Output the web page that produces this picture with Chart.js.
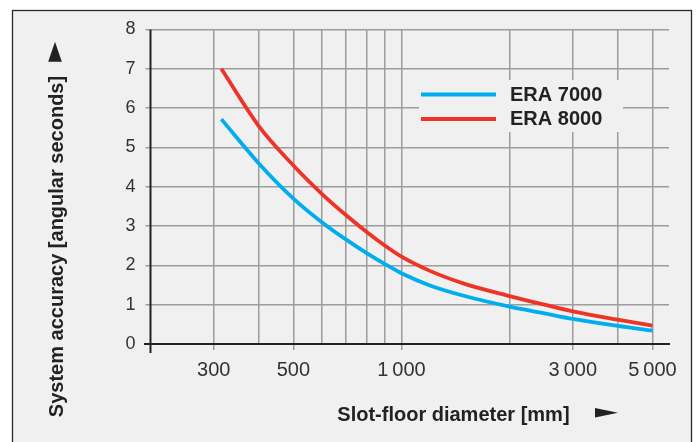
<!DOCTYPE html>
<html>
<head>
<meta charset="utf-8">
<script src="https://cdn.jsdelivr.net/npm/chart.js@4.4.1/dist/chart.umd.min.js"></script>
<style>
  html, body { margin: 0; padding: 0; background: #ffffff; }
  canvas { display: block; }
</style>
</head>
<body>
<canvas id="chart" width="696" height="442"></canvas>
<script>
// Slot-floor diameter [mm] and system accuracy [angular seconds]
const diameters = [315, 400, 500, 600, 700, 800, 900, 1000, 1200, 1500, 2000, 2500, 3000, 4000, 5000];
const era7000 = [5.72, 4.60, 3.70, 3.10, 2.66, 2.31, 2.03, 1.80, 1.49, 1.22, 0.95, 0.78, 0.64, 0.46, 0.34];
const era8000 = [7.00, 5.55, 4.54, 3.82, 3.28, 2.85, 2.50, 2.22, 1.86, 1.53, 1.22, 1.00, 0.83, 0.62, 0.47];
const seriesNames = ['ERA 7000', 'ERA 8000'];

// Axis ticks
const gridDiameters = [300, 400, 500, 600, 700, 800, 900, 1000, 2000, 3000, 4000, 5000];
const labelledDiameters = [300, 500, 1000, 3000, 5000];
const xTickLabels = ['300', '500', '1\u2009000', '3\u2009000', '5\u2009000'];
const yTicks = [0, 1, 2, 3, 4, 5, 6, 7, 8];

const xTitle = 'Slot-floor diameter [mm]';
const yTitle = 'System accuracy [angular seconds]';

const BG = '#f0f0f0';
const GRID = '#9c9c9c';
const INK = '#222222';
const SANS = '"Liberation Sans", Arial, Helvetica, sans-serif';

const toPoints = (ys) => diameters.map((d, i) => ({ x: d, y: ys[i] }));

const framePlugin = {
  id: 'frame',
  beforeDraw(chart) {
    const ctx = chart.ctx;
    ctx.save();
    ctx.fillStyle = '#ffffff';
    ctx.fillRect(0, 0, chart.width, chart.height);
    ctx.fillStyle = BG;
    ctx.fillRect(12, 10, 680, 440);
    ctx.strokeStyle = '#2a2a2a';
    ctx.lineWidth = 1.3;
    ctx.strokeRect(12.5, 10.5, 679, 440);
    ctx.restore();
  }
};

const axesPlugin = {
  id: 'axesAndKey',
  afterDatasetsDraw(chart) {
    const ctx = chart.ctx;
    const { left, right, top, bottom } = chart.chartArea;
    ctx.save();
    // axis lines
    ctx.strokeStyle = INK;
    ctx.lineWidth = 2;
    ctx.beginPath();
    ctx.moveTo(left - 6.5, bottom);
    ctx.lineTo(right + 1, bottom);
    ctx.stroke();
    ctx.beginPath();
    ctx.moveTo(left, top);
    ctx.lineTo(left, bottom + 9);
    ctx.stroke();

    // key
    ctx.fillStyle = BG;
    ctx.fillRect(419, 80, 204, 52);
    ctx.font = 'bold 20px ' + SANS;
    ctx.textBaseline = 'alphabetic';
    ctx.textAlign = 'left';
    chart.data.datasets.forEach((ds, i) => {
      const y = 94.5 + i * 24.4;
      ctx.strokeStyle = ds.borderColor;
      ctx.lineWidth = 4;
      ctx.beginPath();
      ctx.moveTo(421, y);
      ctx.lineTo(496, y);
      ctx.stroke();
      ctx.fillStyle = INK;
      ctx.fillText(ds.label, 510, y + 6.4);
    });

    // axis titles
    ctx.fillStyle = INK;
    ctx.font = 'bold 20px ' + SANS;
    ctx.fillText(xTitle, 337.3, 420.7);
    ctx.beginPath();
    ctx.moveTo(595, 408);
    ctx.lineTo(618, 412.8);
    ctx.lineTo(595, 417.6);
    ctx.closePath();
    ctx.fill();

    ctx.save();
    ctx.translate(62.7, 246.5);
    ctx.rotate(-Math.PI / 2);
    ctx.textAlign = 'center';
    ctx.fillText(yTitle, 0, 0);
    ctx.restore();
    ctx.beginPath();
    ctx.moveTo(48.2, 61.7);
    ctx.lineTo(61.8, 61.7);
    ctx.lineTo(55, 41.7);
    ctx.closePath();
    ctx.fill();
    ctx.restore();
  }
};

new Chart(document.getElementById('chart'), {
  type: 'line',
  data: {
    datasets: [
      {
        label: seriesNames[0],
        data: toPoints(era7000),
        borderColor: '#00aeef',
        borderWidth: 3.8,
        pointRadius: 0,
        cubicInterpolationMode: 'monotone',
        borderCapStyle: 'butt'
      },
      {
        label: seriesNames[1],
        data: toPoints(era8000),
        borderColor: '#ee3327',
        borderWidth: 3.8,
        pointRadius: 0,
        cubicInterpolationMode: 'monotone',
        borderCapStyle: 'butt'
      }
    ]
  },
  options: {
    responsive: false,
    animation: false,
    devicePixelRatio: 1,
    layout: { padding: { left: 0, top: 29.5, right: 27, bottom: 0 } },
    plugins: {
      legend: { display: false },
      tooltip: { enabled: false },
      title: { display: false }
    },
    scales: {
      x: {
        type: 'logarithmic',
        min: 200,
        max: 5560,
        afterBuildTicks: (s) => { s.ticks = gridDiameters.map(v => ({ value: v })); },
        afterFit: (s) => { s.height = 98; },
        border: { display: false },
        grid: {
          color: GRID,
          lineWidth: 1.5,
          drawTicks: true,
          tickLength: 6,
          tickColor: (c) => (c.tick && labelledDiameters.includes(c.tick.value)) ? GRID : 'rgba(0,0,0,0)'
        },
        ticks: {
          autoSkip: false,
          maxRotation: 0,
          minRotation: 0,
          padding: 8,
          color: '#333333',
          font: { family: SANS, size: 20 },
          callback: (v) => {
            const i = labelledDiameters.indexOf(v);
            return i >= 0 ? xTickLabels[i] : '';
          }
        }
      },
      y: {
        min: 0,
        max: 8,
        afterBuildTicks: (s) => { s.ticks = yTicks.map(v => ({ value: v })); },
        afterFit: (s) => { s.width = 150.5; },
        border: { display: false },
        grid: { color: GRID, lineWidth: 1.5, drawTicks: true, tickLength: 5, tickColor: GRID },
        ticks: {
          padding: 10,
          color: '#333333',
          font: { family: SANS, size: 18 }
        }
      }
    }
  },
  plugins: [framePlugin, axesPlugin]
});
</script>
</body>
</html>
